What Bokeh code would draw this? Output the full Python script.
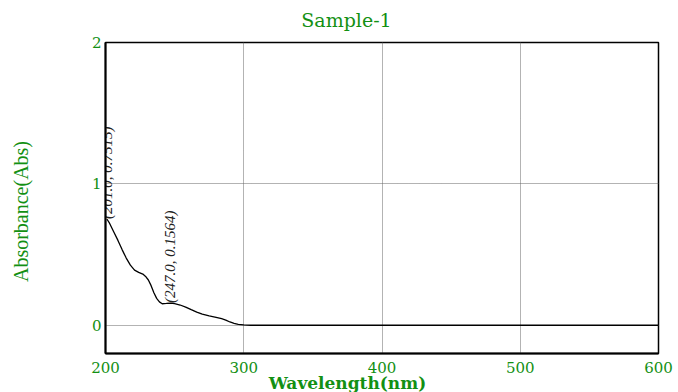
import math

from bokeh.core.properties import value
from bokeh.embed import file_html
from bokeh.models import ColumnDataSource, FixedTicker, Label
from bokeh.plotting import figure
from bokeh.resources import INLINE

# Absorbance spectrum of Sample-1
wavelength = [201.0, 203, 206, 209, 212, 215, 218, 221, 224, 227, 229, 231,
              233, 235, 237, 239, 241, 244, 247.0, 250, 254, 258, 262, 266,
              270, 275, 280, 284, 287, 290, 293, 296, 300, 305, 325, 350,
              375, 400, 425, 450, 475, 500, 525, 550, 575, 600]
absorbance = [0.7515, 0.72, 0.66, 0.60, 0.535, 0.475, 0.425, 0.39, 0.374,
              0.362, 0.345, 0.32, 0.28, 0.23, 0.19, 0.165, 0.152, 0.154,
              0.1564, 0.153, 0.143, 0.128, 0.110, 0.093, 0.079, 0.066,
              0.056, 0.046, 0.036, 0.023, 0.013, 0.006, 0.002, 0.0, 0.0,
              0.0, 0.0, 0.0, 0.0, 0.0, 0.0, 0.0, 0.0, 0.0, 0.0, 0.0]

# annotated peaks
peak_wl = [201.0, 247.0]
peak_abs = [0.7515, 0.1564]
peak_text = ["(201.0, 0.7515)", "(247.0, 0.1564)"]

x_ticks = [200, 300, 400, 500, 600]
y_ticks = [0, 1, 2]

GREEN = "#139013"

p = figure(width=678, height=392, x_range=(200, 600), y_range=(-0.2, 2),
           output_backend="svg", toolbar_location=None,
           min_border_left=105, min_border_right=20,
           min_border_top=39, min_border_bottom=39)
p.background_fill_color = "white"
p.border_fill_color = "white"
p.outline_line_color = "black"
p.outline_line_width = 1.5

p.xaxis.ticker = FixedTicker(ticks=x_ticks)
p.yaxis.ticker = FixedTicker(ticks=y_ticks)
for ax in (p.xaxis, p.yaxis):
    ax.major_tick_line_color = None
    ax.minor_tick_line_color = None
    ax.major_tick_out = 0
    ax.major_tick_in = 0
    ax.minor_tick_out = 0
    ax.axis_line_color = "black"
    ax.axis_line_width = 2
    ax.major_label_text_color = GREEN
    ax.major_label_text_font = "DejaVu Serif"
    ax.major_label_text_font_size = "15px"
p.xaxis.major_label_standoff = 8
p.yaxis.major_label_standoff = 4

p.xgrid.ticker = FixedTicker(ticks=[300, 400, 500])
p.ygrid.ticker = FixedTicker(ticks=[0, 1])
for g in (p.xgrid, p.ygrid):
    g.grid_line_color = "#666666"
    g.grid_line_width = 1
    g.grid_line_dash = "1 1"

src = ColumnDataSource(dict(wl=wavelength, ab=absorbance))
p.line("wl", "ab", source=src, line_color="black", line_width=1.3)

p.text(x=peak_wl, y=peak_abs, text=peak_text, angle=math.pi / 2,
       text_align="left", text_baseline="middle",
       text_font=value("Liberation Serif"), text_font_style="italic",
       text_font_size="15px", text_color="#222222")

# title and axis titles live in the side panels around the frame;
# screen offsets are measured from each panel's own box
p.add_layout(Label(x=241, y=23, x_units="screen", y_units="screen",
                   text="Sample-1", text_align="center",
                   text_baseline="middle", text_font="DejaVu Serif",
                   text_font_size="19px", text_color=GREEN), "above")
p.add_layout(Label(x=242, y=-362, x_units="screen", y_units="screen",
                   text="Wavelength(nm)", text_align="center",
                   text_baseline="middle", text_font="DejaVu Serif",
                   text_font_style="bold", text_font_size="17px",
                   text_color=GREEN), "above")
p.add_layout(Label(x=-46, y=142, x_units="screen", y_units="screen",
                   text="Absorbance(Abs)", text_align="center",
                   text_baseline="middle", angle=math.pi / 2,
                   text_font="Liberation Serif", text_font_size="20px",
                   text_color=GREEN), "left")

open("out.html", "w").write(file_html(p, INLINE))
